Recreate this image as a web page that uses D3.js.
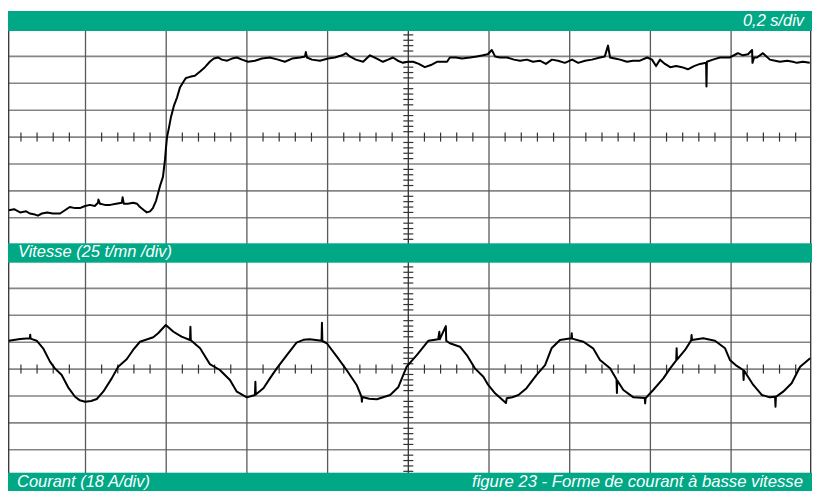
<!DOCTYPE html>
<html>
<head>
<meta charset="utf-8">
<script src="https://cdn.jsdelivr.net/npm/d3@7"></script>
<style>
body { margin: 0; background: #fff; }
</style>
</head>
<body>
<div id="chart"></div>
<script>
let width = 818;
let height = 491;

// time in seconds (0,2 s/div), speed in t/mn, current in A
let vitesse = [
 [0.010,32],[0.023,33],[0.038,30],[0.053,31],[0.062,29],[0.075,28],[0.082,27],[0.092,29],[0.105,30],[0.119,29],
 [0.137,29],[0.149,32],[0.161,35],[0.174,34],[0.186,34],[0.199,36],[0.211,37],[0.223,36],[0.231,39],[0.232,42],
 [0.236,38],[0.248,37],[0.261,37],[0.276,38],[0.290,39],[0.292,44],[0.295,38],[0.305,38],[0.318,39],[0.328,38],
 [0.335,35],[0.345,32],[0.352,30],[0.360,31],[0.367,34],[0.375,41],[0.380,48],[0.385,55],[0.392,63],[0.397,79],
 [0.399,88],[0.402,100],[0.407,109],[0.412,119],[0.419,129],[0.427,137],[0.434,146],[0.442,151],[0.449,155],[0.459,156],
 [0.471,157],[0.484,161],[0.496,165],[0.508,170],[0.518,173],[0.528,174],[0.538,172],[0.551,171],[0.563,173],[0.575,174],
 [0.588,172],[0.603,170],[0.620,171],[0.637,173],[0.657,174],[0.677,172],[0.694,170],[0.712,173],[0.732,174],[0.744,175],
 [0.746,179],[0.749,174],[0.761,172],[0.781,171],[0.801,173],[0.818,174],[0.836,176],[0.846,178],[0.855,175],[0.870,172],
 [0.888,170],[0.905,176],[0.922,173],[0.937,170],[0.950,172],[0.962,174],[0.974,171],[0.987,169],[0.999,170],[1.012,170],
 [1.026,168],[1.041,165],[1.056,167],[1.071,170],[1.084,170],[1.096,170],[1.103,174],[1.118,174],[1.133,173],[1.153,174],
 [1.170,175],[1.185,176],[1.197,177],[1.207,181],[1.215,175],[1.227,174],[1.245,174],[1.262,172],[1.277,171],[1.294,172],
 [1.309,170],[1.326,171],[1.341,168],[1.356,172],[1.371,171],[1.388,169],[1.406,172],[1.421,169],[1.438,171],[1.455,172],
 [1.475,174],[1.487,175],[1.495,185],[1.500,174],[1.512,173],[1.525,172],[1.542,170],[1.557,171],[1.574,171],[1.592,174],
 [1.604,172],[1.614,166],[1.624,172],[1.636,168],[1.649,165],[1.664,166],[1.678,165],[1.693,163],[1.708,166],[1.723,168],
 [1.738,169],[1.739,147],[1.740,170],[1.755,172],[1.772,174],[1.797,174],[1.812,177],[1.817,178],[1.829,176],[1.842,177],
 [1.852,181],[1.853,169],[1.857,174],[1.864,174],[1.879,178],[1.896,172],[1.909,171],[1.921,170],[1.939,171],[1.953,170],
 [1.963,169],[1.978,170],[1.995,169]
];

let courant = [
 [0.010,19.0],[0.038,20.1],[0.062,20.6],[0.063,23.0],[0.064,20.4],[0.079,19.0],[0.095,13.9],[0.112,5.0],[0.124,0.5],[0.141,-3.9],
 [0.157,-12.2],[0.174,-18.5],[0.186,-20.9],[0.199,-21.8],[0.214,-21.3],[0.228,-20.0],[0.244,-15.1],[0.265,-6.2],[0.281,1.6],[0.302,6.6],[0.318,12.8],[0.335,18.3],
 [0.368,21.3],[0.380,24.0],[0.399,29.5],[0.418,25.0],[0.438,21.7],[0.459,19.5],[0.460,28.4],[0.461,19.3],[0.484,13.9],[0.508,3.4],
 [0.533,-0.6],[0.558,-7.3],[0.575,-15.1],[0.600,-18.9],[0.620,-17.3],[0.621,-8.4],[0.622,-17.0],[0.641,-12.8],[0.657,-6.2],[0.674,0.5],
 [0.699,9.4],[0.723,17.7],[0.740,19.6],[0.756,19.9],[0.785,19.0],[0.786,31.0],[0.787,18.8],[0.798,17.3],[0.823,8.3],[0.847,-0.6],[0.872,-10.6],
 [0.884,-18.5],[0.885,-21.8],[0.886,-18.7],[0.903,-19.9],[0.922,-20.2],[0.955,-17.3],[0.975,-12.2],[0.996,1.6],[1.021,9.4],[1.050,19.0],[1.074,19.9],
 [1.077,25.0],[1.078,20.0],[1.093,28.8],[1.094,19.0],[1.103,17.3],[1.128,15.0],[1.145,9.4],[1.165,0.5],[1.186,-5.1],[1.198,-10.6],
 [1.215,-16.2],[1.242,-22.7],[1.244,-19.5],[1.258,-18.8],[1.273,-17.3],[1.293,-12.8],[1.318,-3.9],[1.339,2.7],[1.355,13.9],[1.376,19.5],[1.404,20.6],
 [1.405,24.0],[1.406,20.4],[1.434,18.3],[1.458,13.9],[1.475,6.1],[1.500,0.5],[1.516,-6.8],[1.517,-16.0],[1.518,-7.6],[1.533,-14.0],
 [1.558,-18.9],[1.586,-19.4],[1.587,-22.9],[1.588,-19.5],[1.607,-14.0],[1.632,-6.2],[1.649,0.5],[1.664,5.8],[1.665,13.9],[1.666,6.3],
 [1.686,12.8],[1.701,19.2],[1.702,22.8],[1.703,19.5],[1.731,20.6],[1.760,19.0],[1.785,13.9],[1.797,6.1],[1.814,2.1],[1.830,-0.6],
 [1.831,-7.3],[1.832,-0.9],[1.855,-10.6],[1.876,-17.3],[1.896,-18.9],[1.909,-18.5],[1.910,-25.2],[1.911,-18.6],[1.929,-15.1],[1.950,-9.5],
 [1.971,1.6],[1.996,7.2]
];

let timeLabel = "0,2 s/div";
let speedLabel = "Vitesse (25 t/mn /div)";
let currentLabel = "Courant (18 A/div)";
let figureLabel = "figure 23 - Forme de courant à basse vitesse";

let GREEN = "#00a886";
let frameLeft = 8.7;
let frameRight = 810.7;

let svg = d3.select("#chart")
    .append("svg")
    .attr("width", width)
    .attr("height", height)
    .style("background", "#fff");

let x = d3.scaleLinear().domain([0, 2]).range([4.8, 811.8]);
let ySpeed = d3.scaleLinear().domain([0, 200]).range([244.7, 29.5]);
let yCur = d3.scaleLinear().domain([-72, 72]).range([476.7, 261.5]);

let grid = svg.append("g");

// horizontal grid lines, one set per panel
function hLines(scale, values)
{
    grid.append("g")
        .selectAll("line")
        .data(values)
        .enter()
        .append("line")
        .attr("x1", frameLeft)
        .attr("x2", frameRight)
        .attr("y1", d => scale(d))
        .attr("y2", d => scale(d))
        .attr("stroke", "#858585")
        .attr("stroke-width", 1.6);
}
hLines(ySpeed, d3.range(25, 200, 25));
hLines(yCur, d3.range(-54, 72, 18));

// vertical grid lines across both panels
let majorTimes = d3.range(1, 10).map(k => k * 0.2);
grid.append("g")
    .selectAll("line")
    .data(majorTimes)
    .enter()
    .append("line")
    .attr("x1", d => x(d))
    .attr("x2", d => x(d))
    .attr("y1", 29)
    .attr("y2", 477)
    .attr("stroke", d => Math.abs(d - 1) < 1e-6 ? "#333" : "#5a5a5a")
    .attr("stroke-width", 1.3);

// frame
[frameLeft, frameRight].forEach(function(px) {
    grid.append("line")
        .attr("x1", px).attr("x2", px)
        .attr("y1", 29).attr("y2", 477)
        .attr("stroke", "#333")
        .attr("stroke-width", 1.3);
});

// minor ticks on the centre cross of each panel
let minorTimes = d3.range(1, 50).map(k => k * 0.04).filter(t => Math.abs(t / 0.2 - Math.round(t / 0.2)) > 1e-6);

function centreTicks(yScale, centre, step, lo, hi)
{
    let cy = yScale(centre);
    grid.append("g")
        .selectAll("line")
        .data(minorTimes)
        .enter()
        .append("line")
        .attr("x1", d => x(d))
        .attr("x2", d => x(d))
        .attr("y1", cy - 4.5)
        .attr("y2", cy + 4.5)
        .attr("stroke", "#333")
        .attr("stroke-width", 1.2);

    let minorVals = d3.range(1, Math.round((hi - lo) / step))
        .map(k => lo + k * step)
        .filter(v => Math.abs(((v - lo) / (step * 5)) - Math.round((v - lo) / (step * 5))) > 1e-6);

    let cx = x(1);
    grid.append("g")
        .selectAll("line")
        .data(minorVals)
        .enter()
        .append("line")
        .attr("x1", cx - 5)
        .attr("x2", cx + 5)
        .attr("y1", d => yScale(d))
        .attr("y2", d => yScale(d))
        .attr("stroke", "#333")
        .attr("stroke-width", 1.2);
}
centreTicks(ySpeed, 100, 5, 0, 200);
centreTicks(yCur, 0, 3.6, -72, 72);

// traces
let speedLine = d3.line()
    .x(d => x(d[0]))
    .y(d => ySpeed(d[1]));

let currentLine = d3.line()
    .x(d => x(d[0]))
    .y(d => yCur(d[1]));

svg.append("path")
    .datum(vitesse)
    .attr("d", speedLine)
    .attr("fill", "none")
    .attr("stroke", "#000")
    .attr("stroke-width", 2)
    .attr("stroke-linejoin", "round");

svg.append("path")
    .datum(courant)
    .attr("d", currentLine)
    .attr("fill", "none")
    .attr("stroke", "#000")
    .attr("stroke-width", 2)
    .attr("stroke-linejoin", "round");

// green title bars
let bars = [
    {y: 11, h: 20},
    {y: 243.3, h: 19.4},
    {y: 472.7, h: 18.3}
];
svg.append("g")
    .selectAll("rect")
    .data(bars)
    .enter()
    .append("rect")
    .attr("x", 8)
    .attr("y", d => d.y)
    .attr("width", 804)
    .attr("height", d => d.h)
    .attr("fill", GREEN);

let labels = [
    {text: timeLabel, x: 804, y: 26, anchor: "end", len: 61},
    {text: speedLabel, x: 18, y: 257, anchor: "start", len: 154},
    {text: currentLabel, x: 17, y: 487, anchor: "start", len: 133},
    {text: figureLabel, x: 803, y: 487, anchor: "end", len: 331}
];
svg.append("g")
    .selectAll("text")
    .data(labels)
    .enter()
    .append("text")
    .attr("x", d => d.x)
    .attr("y", d => d.y)
    .attr("text-anchor", d => d.anchor)
    .attr("textLength", d => d.len)
    .attr("lengthAdjust", "spacingAndGlyphs")
    .style("font-family", "'Liberation Sans Narrow', 'Arial Narrow', 'Liberation Sans', Arial, sans-serif")
    .style("font-style", "italic")
    .style("font-size", "17px")
    .style("fill", "#fff")
    .text(d => d.text);
</script>
</body>
</html>
